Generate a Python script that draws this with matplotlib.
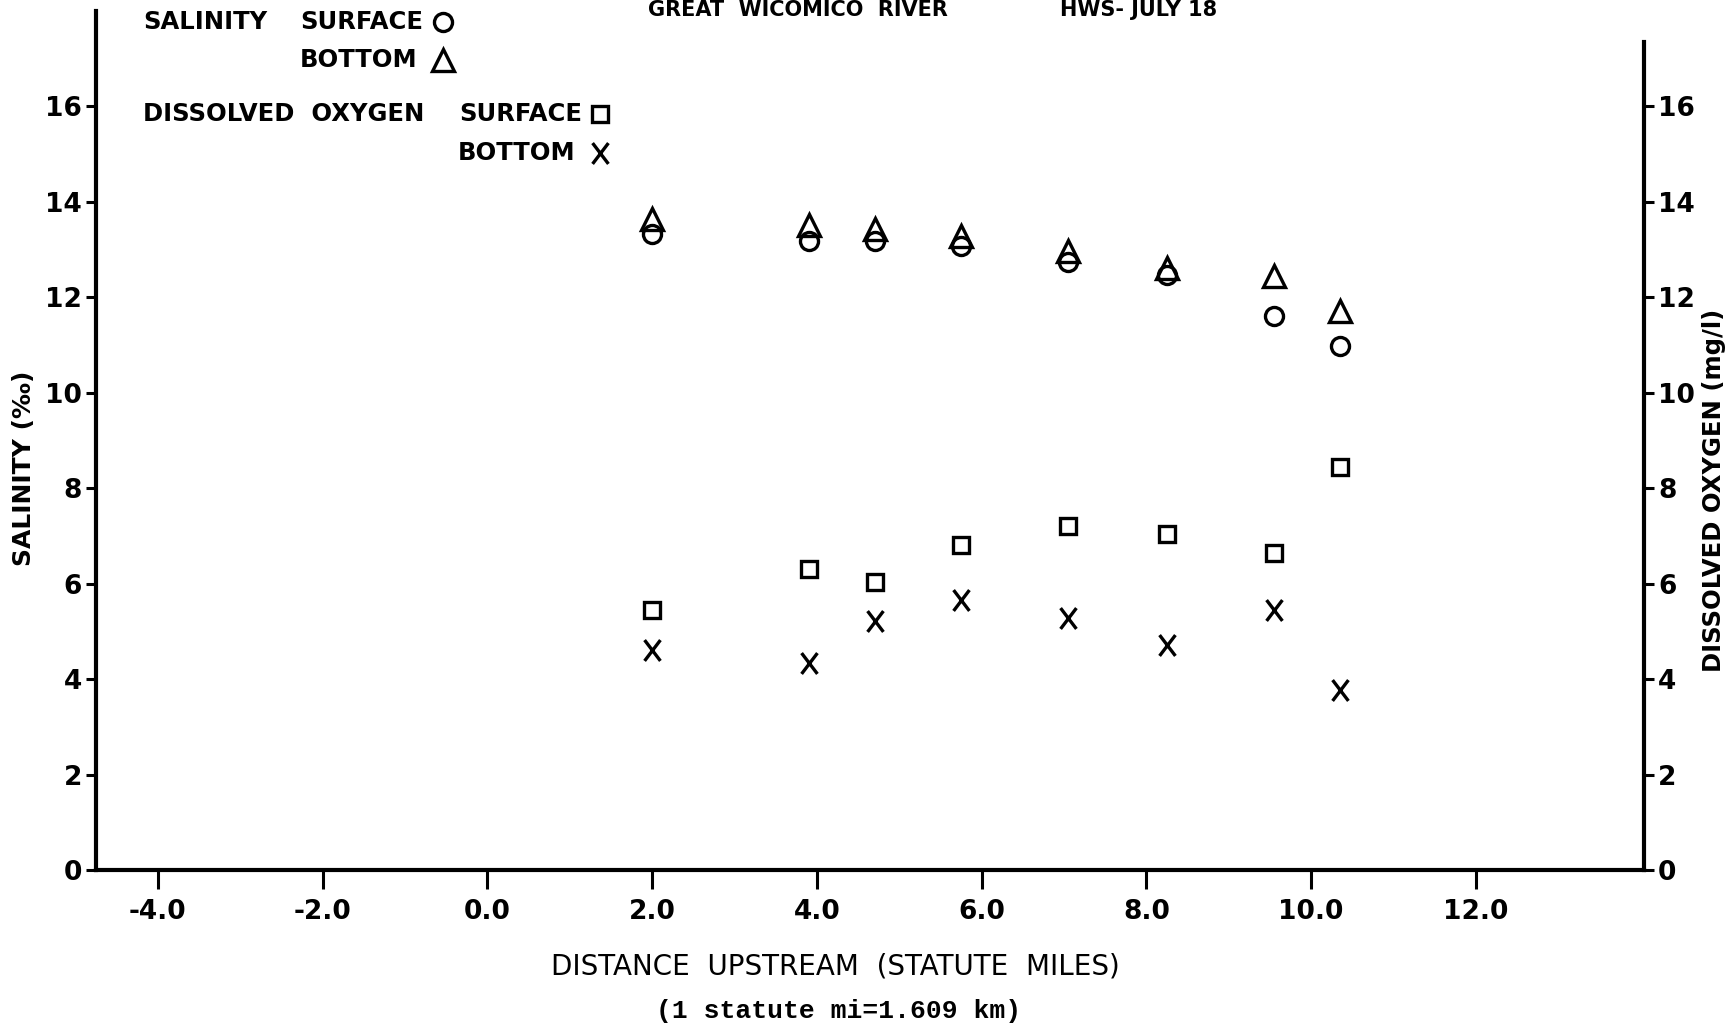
import matplotlib
matplotlib.use("Agg")
import matplotlib.pyplot as plt
from matplotlib.path import Path

# ---------------- DATA ----------------
distance_mi = [2.0, 3.9, 4.7, 5.75, 7.05, 8.25, 9.55, 10.35]
sal_surface = [13.33, 13.17, 13.17, 13.07, 12.73, 12.47, 11.61, 10.98]
sal_bottom = [13.65, 13.52, 13.43, 13.29, 12.98, 12.62, 12.45, 11.71]
do_surface = [5.45, 6.31, 6.03, 6.80, 7.20, 7.04, 6.64, 8.44]
do_bottom = [4.61, 4.34, 5.21, 5.65, 5.28, 4.72, 5.45, 3.77]

x_ticks = [-4, -2, 0, 2, 4, 6, 8, 10, 12]
y_ticks = [0, 2, 4, 6, 8, 10, 12, 14, 16]

# ---------------- STYLE ----------------
W, H = 1727, 1028
BOLD = ["DejaVu Sans"]
LW = 2.2

# upright letter-like X
x_letter = Path([(-0.38, -0.5), (0.38, 0.5), (-0.38, 0.5), (0.38, -0.5)],
                [Path.MOVETO, Path.LINETO, Path.MOVETO, Path.LINETO])

styles = {
    "sal_surface": dict(marker="o", ms=13),
    "sal_bottom": dict(marker="^", ms=16),
    "do_surface": dict(marker="s", ms=12),
    "do_bottom": dict(marker=x_letter, ms=15),
}


def fx(px):
    return px / W


def fy(py):
    return 1 - py / H


fig = plt.figure(figsize=(W / 100, H / 100), dpi=100)
ax = fig.add_axes([fx(96), fy(870), fx(1644) - fx(96), fy(11) - fy(870)])

series = [
    ("sal_surface", sal_surface),
    ("sal_bottom", sal_bottom),
    ("do_surface", do_surface),
    ("do_bottom", do_bottom),
]
for key, vals in series:
    st = styles[key]
    ax.plot(distance_mi, vals, linestyle="none", marker=st["marker"], ms=st["ms"],
            mfc="none", mec="black", mew=2.4, clip_on=False)

ax.set_xlim(-4.75, 14.04)
ax.set_ylim(0, 18)

ax.spines["top"].set_visible(False)
for s in ["left", "bottom", "right"]:
    ax.spines[s].set_linewidth(LW + 0.8)
ax.spines["right"].set_bounds(0, 17.35)

ax.set_xticks(x_ticks)
ax.set_xticklabels(["%.1f" % v for v in x_ticks], fontsize=19, fontweight="bold", family=BOLD)
ax.set_yticks(y_ticks)
ax.set_yticklabels([str(v) for v in y_ticks], fontsize=19, fontweight="bold", family=BOLD)
ax.tick_params(axis="x", direction="out", length=14, width=LW, pad=7)
ax.tick_params(axis="y", direction="out", length=7, width=LW, pad=3)

ax2 = ax.twinx()
ax2.set_ylim(0, 18)
for s in ["top", "left", "bottom", "right"]:
    ax2.spines[s].set_visible(False)
ax2.set_yticks(y_ticks)
ax2.set_yticklabels([str(v) for v in y_ticks], fontsize=19, fontweight="bold", family=BOLD)
ax2.tick_params(axis="y", direction="out", length=7, width=LW, pad=3)

# axis labels
fig.text(fx(24), fy(468), "SALINITY (‰)", rotation=90, ha="center", va="center",
         fontsize=18, fontweight="bold", family=BOLD)
fig.text(fx(1714), fy(490), "DISSOLVED OXYGEN (mg/l)", rotation=90, ha="center", va="center",
         fontsize=17.5, fontweight="bold", family=BOLD)
fig.text(fx(835), fy(966), "DISTANCE  UPSTREAM  (STATUTE  MILES)", ha="center", va="center",
         fontsize=20, family=BOLD)
fig.text(fx(839), fy(1011), "(1 statute mi=1.609 km)", ha="center", va="center",
         fontsize=19, fontweight="bold", family=["Liberation Mono", "DejaVu Sans Mono"])

# title at the very top edge
fig.text(fx(648), fy(0), "GREAT  WICOMICO  RIVER", ha="left", va="top",
         fontsize=15, fontweight="bold", family=BOLD)
fig.text(fx(1060), fy(0), "HWS- JULY 18", ha="left", va="top",
         fontsize=15, fontweight="bold", family=BOLD)

# legend block
leg_font = dict(fontsize=17.5, fontweight="bold", family=BOLD, va="center", ha="left")
fig.text(fx(143), fy(22), "SALINITY", **leg_font)
fig.text(fx(300), fy(22), "SURFACE", **leg_font)
fig.text(fx(300), fy(60), "BOTTOM", **leg_font)
fig.text(fx(143), fy(114), "DISSOLVED  OXYGEN", **leg_font)
fig.text(fx(459), fy(114), "SURFACE", **leg_font)
fig.text(fx(458), fy(153), "BOTTOM", **leg_font)

legend_spots = {
    "sal_surface": (443, 22),
    "sal_bottom": (443, 60),
    "do_surface": (600, 114),
    "do_bottom": (600, 153),
}
for key, (px, py) in legend_spots.items():
    st = styles[key]
    ax.plot([fx(px)], [fy(py)], transform=fig.transFigure, linestyle="none",
            marker=st["marker"], ms=st["ms"], mfc="none", mec="black", mew=2.4, clip_on=False)

fig.savefig("out.png", dpi=100)
